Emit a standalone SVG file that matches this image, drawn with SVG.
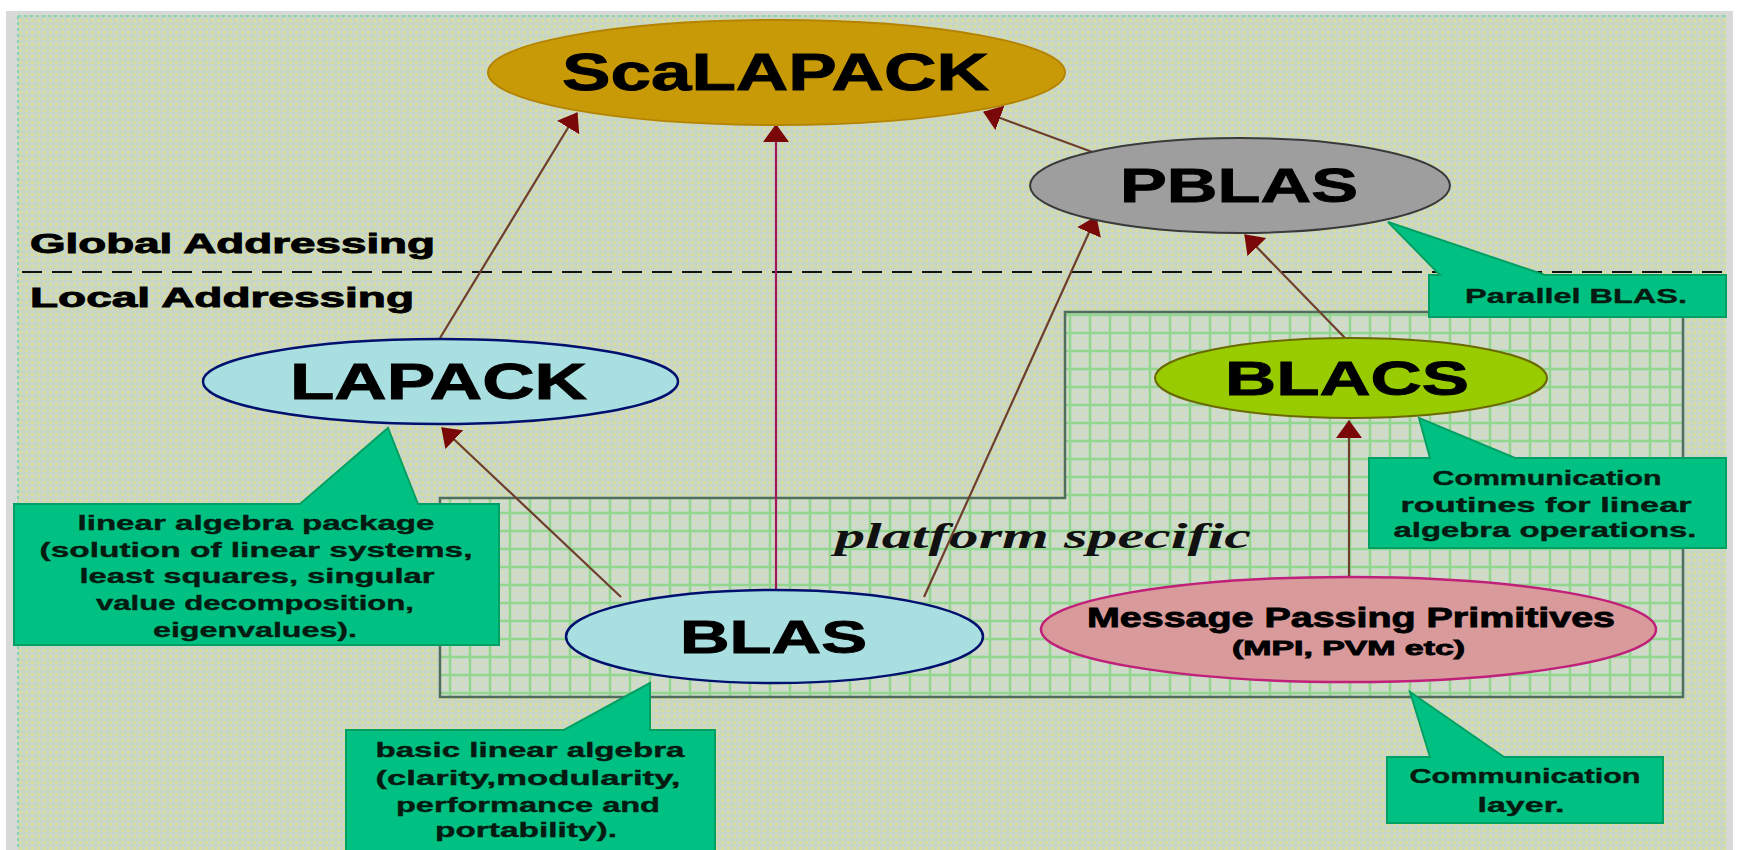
<svg xmlns="http://www.w3.org/2000/svg" width="1740" height="850" viewBox="0 0 1740 850">
<style>
.lbl{font-family:"Liberation Sans",Arial,sans-serif;font-weight:bold;fill:#000;stroke:#000;stroke-width:0.9;}
.call{font-family:"Liberation Sans",Arial,sans-serif;font-weight:bold;font-size:21px;fill:#051a10;stroke:#051a10;stroke-width:0.4;text-anchor:middle;}
.cbox{fill:#00c182;stroke:#00a064;stroke-width:2;}
.conn{fill:none;stroke:#6e3e2c;stroke-width:2.2;}
</style>
<defs>
<pattern id="bg" width="6" height="6" patternUnits="userSpaceOnUse">
<rect width="6" height="6" fill="#c9d6c6"/>
<rect x="1" y="1" width="3" height="3" fill="#d7dd9c"/>
</pattern>
<pattern id="grid" width="20" height="18" patternUnits="userSpaceOnUse">
<rect width="20" height="18" fill="url(#bg)"/>
<rect width="20" height="18" fill="#d2dcd2" opacity="0.6"/>
<path d="M0,9 H20 M10,0 V18" stroke="#93d690" stroke-width="2.5"/>
</pattern>
<marker id="ah" viewBox="0 0 18 26" refX="17" refY="13" markerWidth="18" markerHeight="26" markerUnits="userSpaceOnUse" orient="auto">
<path d="M0,0 L18,13 L0,26 Z" fill="#7a0808"/>
</marker>
</defs>

<rect x="0" y="0" width="1740" height="850" fill="#ffffff"/>
<rect x="6" y="11" width="1727" height="839" fill="#d6d9d5"/>
<rect x="18" y="15" width="1708" height="835" fill="url(#bg)"/>
<path d="M18,16 H1726 M18,16 V850" stroke="#86d4b0" stroke-width="2" stroke-dasharray="3 3" fill="none"/>

<g id="platform-region">
<path d="M440,498 L1065,498 L1065,312 L1683,312 L1683,697 L440,697 Z" fill="url(#grid)" stroke="#4f6e5e" stroke-width="2.5"/>
<text x="835" y="548" font-family="'Liberation Serif','Times New Roman',serif" font-weight="bold" font-style="italic" font-size="36" textLength="416" lengthAdjust="spacingAndGlyphs" fill="#111">platform specific</text>
</g>

<g id="addressing">
<line x1="22" y1="272" x2="1722" y2="272" stroke="#111" stroke-width="2" stroke-dasharray="20 10"/>
<text class="lbl" x="30" y="253" font-size="27" textLength="405" lengthAdjust="spacingAndGlyphs">Global Addressing</text>
<text class="lbl" x="30" y="307" font-size="27" textLength="384" lengthAdjust="spacingAndGlyphs">Local Addressing</text>
</g>

<g id="connectors">
<line class="conn" x1="440" y1="338" x2="577" y2="113" marker-end="url(#ah)"/>
<line x1="776" y1="590" x2="776" y2="125" stroke="#a0185a" stroke-width="2.2" marker-end="url(#ah)"/>
<line class="conn" x1="1095" y1="153" x2="984" y2="112" marker-end="url(#ah)"/>
<line class="conn" x1="924" y1="597" x2="1096" y2="217" marker-end="url(#ah)"/>
<line class="conn" x1="1345" y1="338" x2="1245" y2="235" marker-end="url(#ah)"/>
<line class="conn" x1="621" y1="597" x2="442" y2="428" marker-end="url(#ah)"/>
<line class="conn" x1="1349" y1="577" x2="1349" y2="421" marker-end="url(#ah)"/>
</g>

<g id="scalapack">
<ellipse cx="776.5" cy="72.5" rx="288.5" ry="52.5" fill="#c99a08" stroke="#b48400" stroke-width="2"/>
<text class="lbl" x="562" y="90" font-size="52" textLength="427" lengthAdjust="spacingAndGlyphs">ScaLAPACK</text>
</g>

<g id="pblas">
<ellipse cx="1240" cy="185.5" rx="210" ry="47.5" fill="#9e9e9e" stroke="#3a3a3a" stroke-width="2"/>
<text class="lbl" x="1120" y="202" font-size="49" textLength="238" lengthAdjust="spacingAndGlyphs">PBLAS</text>
</g>

<g id="lapack">
<ellipse cx="440.5" cy="381.5" rx="237.5" ry="42.5" fill="#a9dfe0" stroke="#00106e" stroke-width="2.5"/>
<text class="lbl" x="290" y="399" font-size="50" textLength="297" lengthAdjust="spacingAndGlyphs">LAPACK</text>
</g>

<g id="blacs">
<ellipse cx="1351" cy="378" rx="196" ry="40" fill="#99cc00" stroke="#6a6a00" stroke-width="2"/>
<text class="lbl" x="1225" y="395" font-size="49" textLength="244" lengthAdjust="spacingAndGlyphs">BLACS</text>
</g>

<g id="blas">
<ellipse cx="774.5" cy="636.5" rx="208.5" ry="46.5" fill="#a9dfe0" stroke="#00106e" stroke-width="2.5"/>
<text class="lbl" x="680" y="653" font-size="46" textLength="187" lengthAdjust="spacingAndGlyphs">BLAS</text>
</g>

<g id="mpp">
<ellipse cx="1348.5" cy="629.5" rx="307.5" ry="52.5" fill="#d89a9a" stroke="#c0207a" stroke-width="2.5"/>
<text class="lbl" x="1087" y="627" font-size="28" textLength="528" lengthAdjust="spacingAndGlyphs">Message Passing Primitives</text>
<text class="lbl" x="1232" y="655" font-size="21" textLength="233" lengthAdjust="spacingAndGlyphs" stroke-width="0.5">(MPI, PVM etc)</text>
</g>

<g id="note-pblas">
<path class="cbox" d="M1429,275 L1440,275 L1388,222 L1545,275 L1726,275 L1726,317 L1429,317 Z"/>
<text class="call" x="1576" y="303" textLength="222" lengthAdjust="spacingAndGlyphs">Parallel BLAS.</text>
</g>

<g id="note-lapack">
<path class="cbox" d="M14,504 L300,504 L388,428 L418,504 L499,504 L499,645 L14,645 Z"/>
<text class="call" x="256" y="530" textLength="357" lengthAdjust="spacingAndGlyphs">linear algebra package</text>
<text class="call" x="256" y="557" textLength="433" lengthAdjust="spacingAndGlyphs">(solution of linear systems,</text>
<text class="call" x="257" y="583" textLength="355" lengthAdjust="spacingAndGlyphs">least squares, singular</text>
<text class="call" x="255" y="610" textLength="318" lengthAdjust="spacingAndGlyphs">value decomposition,</text>
<text class="call" x="255" y="637" textLength="204" lengthAdjust="spacingAndGlyphs">eigenvalues).</text>
</g>

<g id="note-blas">
<path class="cbox" d="M346,730 L564,730 L650,683 L650,730 L715,730 L715,852 L346,852 Z"/>
<text class="call" x="530" y="757" textLength="309" lengthAdjust="spacingAndGlyphs">basic linear algebra</text>
<text class="call" x="528" y="785" textLength="305" lengthAdjust="spacingAndGlyphs">(clarity,modularity,</text>
<text class="call" x="528" y="812" textLength="264" lengthAdjust="spacingAndGlyphs">performance and</text>
<text class="call" x="526" y="837" textLength="182" lengthAdjust="spacingAndGlyphs">portability).</text>
</g>

<g id="note-blacs">
<path class="cbox" d="M1369,458 L1430,458 L1419,418 L1515,458 L1726,458 L1726,548 L1369,548 Z"/>
<text class="call" x="1547" y="485" textLength="229" lengthAdjust="spacingAndGlyphs">Communication</text>
<text class="call" x="1546" y="512" textLength="291" lengthAdjust="spacingAndGlyphs">routines for linear</text>
<text class="call" x="1545" y="537" textLength="303" lengthAdjust="spacingAndGlyphs">algebra operations.</text>
</g>

<g id="note-mpp">
<path class="cbox" d="M1387,757 L1430,757 L1410,692 L1504,757 L1663,757 L1663,823 L1387,823 Z"/>
<text class="call" x="1525" y="783" textLength="231" lengthAdjust="spacingAndGlyphs">Communication</text>
<text class="call" x="1521" y="812" textLength="87" lengthAdjust="spacingAndGlyphs">layer.</text>
</g>
</svg>
